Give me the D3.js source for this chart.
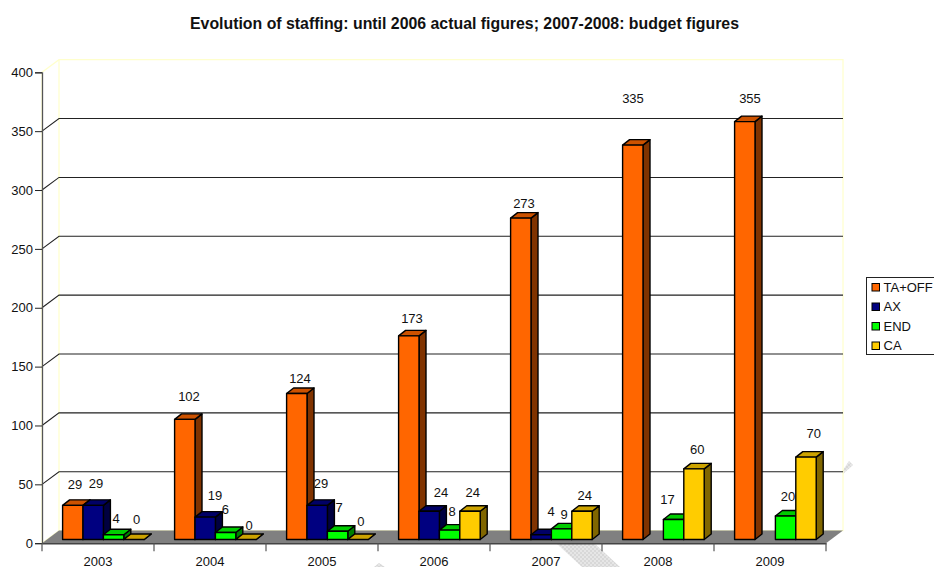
<!DOCTYPE html>
<html>
<head>
<meta charset="utf-8">
<title>Evolution of staffing</title>
<script src="https://cdn.jsdelivr.net/npm/d3@7"></script>
<style>
  html, body { margin: 0; padding: 0; background: #fff; overflow: hidden; }
  text { font-family: "Liberation Sans", Arial, sans-serif; fill: #111; }
</style>
</head>
<body>
<svg id="chart" width="934" height="567"></svg>
<script>
const categories = ['2003', '2004', '2005', '2006', '2007', '2008', '2009'];
const seriesNames = ['TA+OFF', 'AX', 'END', 'CA'];
const taOff = [29, 102, 124, 173, 273, 335, 355];
const ax = [29, 19, 29, 24, 4, null, null];
const end = [4, 6, 7, 8, 9, 17, 20];
const ca = [0, 0, 0, 24, 24, 60, 70];
const yTicks = [0, 50, 100, 150, 200, 250, 300, 350, 400];
const titleText = 'Evolution of staffing: until 2006 actual figures; 2007-2008: budget figures';

const seriesValues = [taOff, ax, end, ca];

// front, top and side faces of the 3d bars
const seriesColors = [
  { front: '#ff6600', top: '#cc5200', side: '#803300' },
  { front: '#000080', top: '#000066', side: '#000040' },
  { front: '#00ff00', top: '#00cc00', side: '#008000' },
  { front: '#ffcc00', top: '#cca300', side: '#806600' },
];

// the data labels in the original sit oddly, so they are nudged one by one [dx, dy]
const labelNudges = [
  [[12.4, -21], [14.4, -23], [13.4, -15], [13.4, -17], [13.4, -15], [10.4, -47], [15.4, -23.5]],
  [[13, -22], [20, -22], [14, -22], [22, -19], [20, -23], null, null],
  [[12.6, -16], [10, -23], [11.6, -24], [12.6, -19], [12.6, -14], [4, -20.5], [12.6, -20]],
  [[12.7, -20.5], [13.3, -14.5], [13, -18.5], [13, -19], [13, -16], [13.4, -19], [18, -24]],
];

const svg = d3.select('#chart');

const x = d3.scaleBand().domain(categories).range([42, 826]);
const y = d3.scaleLinear().domain([0, 400]).range([543.2, 72.3]);
const subX = d3.scaleBand().domain(seriesNames).range([20.6, 102.2]);

const wallDx = 17;
const wallDy = -12.6;
const barDx = 7;
const barDy = -5.5;
const baseDy = -3.7; // bars stand a little behind the front edge of the floor

const pathOf = (points) => `M${points.map((p) => p.join(',')).join('L')}Z`;

// faint checkered band that shows through behind the chart
const defs = svg.append('defs');
const checker = defs
  .append('pattern')
  .attr('id', 'checker')
  .attr('width', 4)
  .attr('height', 4)
  .attr('patternUnits', 'userSpaceOnUse');
checker.append('rect').attr('width', 4).attr('height', 4).attr('fill', '#e6e6e6');
checker.append('rect').attr('width', 2).attr('height', 2).attr('fill', '#d8d8d8');
checker.append('rect').attr('x', 2).attr('y', 2).attr('width', 2).attr('height', 2).attr('fill', '#d8d8d8');

const bandShapes = [
  [[556, 543], [594, 543], [620, 567], [582, 567]],
  [[843, 470], [849, 461], [853, 465], [843, 474]],
  [[374, 567], [379, 563], [385, 567]],
];
svg
  .append('g')
  .selectAll('path')
  .data(bandShapes)
  .join('path')
  .attr('d', pathOf)
  .attr('fill', 'url(#checker)');

svg
  .append('text')
  .attr('x', 464.5)
  .attr('y', 29)
  .attr('text-anchor', 'middle')
  .attr('font-size', 15.87)
  .attr('font-weight', 'bold')
  .text(titleText);

// walls
const x0 = x.range()[0];
const x1 = x.range()[1];
const yBase = y(0);
const yTop = y(400);

svg
  .append('path')
  .attr('d', pathOf([[x0, yTop], [x0 + wallDx, yTop + wallDy], [x1 + wallDx, yTop + wallDy], [x1 + wallDx, yBase + wallDy], [x0 + wallDx, yBase + wallDy], [x0, yBase]]))
  .attr('fill', 'none')
  .attr('stroke', '#ffffcc')
  .attr('stroke-width', 1.2);
svg
  .append('line')
  .attr('x1', x0 + wallDx)
  .attr('x2', x0 + wallDx)
  .attr('y1', yTop + wallDy)
  .attr('y2', yBase + wallDy)
  .attr('stroke', '#ffffcc')
  .attr('stroke-width', 1.2);

// floor
svg
  .append('path')
  .attr('d', pathOf([[x0, yBase], [x0 + wallDx, yBase + wallDy], [x1 + wallDx, yBase + wallDy], [x1, yBase]]))
  .attr('fill', '#808080');

// gridlines run along the side wall and the back wall
svg
  .append('g')
  .selectAll('path')
  .data(yTicks.filter((d) => d > 0 && d < 400))
  .join('path')
  .attr('d', (d) => `M${x0},${y(d)}L${x0 + wallDx},${y(d) + wallDy}L${x1 + wallDx},${y(d) + wallDy}`)
  .attr('fill', 'none')
  .attr('stroke', '#222')
  .attr('stroke-width', 1.1);

const yAxis = d3.axisLeft(y).tickValues(yTicks).tickSize(7).tickPadding(2);
const yAxisGroup = svg.append('g').attr('transform', `translate(${x0},0)`).call(yAxis);
yAxisGroup.select('.domain').attr('stroke', '#555').attr('stroke-width', 1.3);
yAxisGroup.selectAll('.tick line').attr('stroke', '#222');
yAxisGroup.selectAll('.tick text').attr('font-size', 13).attr('font-family', '"Liberation Sans", Arial, sans-serif');

// front edge of the floor with the category ticks
const xAxis = d3.axisBottom(x).tickSize(0).tickPadding(11);
const xAxisGroup = svg.append('g').attr('transform', `translate(0,${yBase})`).call(xAxis);
xAxisGroup.select('.domain').attr('stroke', '#444').attr('stroke-width', 1.6);
xAxisGroup.selectAll('.tick text').attr('font-size', 13).attr('font-family', '"Liberation Sans", Arial, sans-serif').attr('dy', '0.88em');
xAxisGroup
  .selectAll('.cat-tick')
  .data([...categories.map((c) => x(c)), x1])
  .join('line')
  .attr('class', 'cat-tick')
  .attr('x1', (d) => d)
  .attr('x2', (d) => d)
  .attr('y1', 0)
  .attr('y2', 8)
  .attr('stroke', '#555')
  .attr('stroke-width', 1.2);

// bars, one series at a time; each series' labels go down with it so later bars can cover them
seriesNames.forEach((name, s) => {
  const rows = categories
    .map((category, i) => ({ category, i, value: seriesValues[s][i] }))
    .filter((d) => d.value !== null);
  const colors = seriesColors[s];
  const group = svg.append('g').attr('class', `series-${s}`);

  const bar = group
    .selectAll('g')
    .data(rows)
    .join('g')
    .attr('stroke', '#000')
    .attr('stroke-width', 1.4)
    .attr('stroke-linejoin', 'round');

  const left = (d) => x(d.category) + subX(name);
  const right = (d) => left(d) + subX.bandwidth();
  const bottom = () => yBase + baseDy;
  const top = (d) => y(d.value) + baseDy;

  bar
    .append('path')
    .attr('d', (d) => pathOf([[right(d), top(d)], [right(d) + barDx, top(d) + barDy], [right(d) + barDx, bottom() + barDy], [right(d), bottom()]]))
    .attr('fill', colors.side);

  bar
    .append('path')
    .attr('d', (d) => pathOf([[left(d), top(d)], [left(d) + barDx, top(d) + barDy], [right(d) + barDx, top(d) + barDy], [right(d), top(d)]]))
    .attr('fill', colors.top);

  bar
    .filter((d) => d.value > 0)
    .append('rect')
    .attr('x', left)
    .attr('y', top)
    .attr('width', subX.bandwidth())
    .attr('height', (d) => bottom() - top(d))
    .attr('fill', colors.front);

  group
    .selectAll('text')
    .data(rows)
    .join('text')
    .attr('x', (d) => left(d) + labelNudges[s][d.i][0])
    .attr('y', (d) => top(d) + labelNudges[s][d.i][1])
    .attr('dy', '0.35em')
    .attr('text-anchor', 'middle')
    .attr('font-size', 13)
    .text((d) => d.value);
});

// legend runs off the right edge of the picture, as in the original
const legend = svg.append('g');
legend
  .append('rect')
  .attr('x', 866.5)
  .attr('y', 277.5)
  .attr('width', 80)
  .attr('height', 77)
  .attr('fill', '#fff')
  .attr('stroke', '#222')
  .attr('stroke-width', 1);

const legendY = d3.scalePoint().domain(seriesNames).range([287, 345.5]);
const legendRow = legend
  .selectAll('g')
  .data(seriesNames)
  .join('g')
  .attr('transform', (d) => `translate(872,${legendY(d)})`);
legendRow
  .append('rect')
  .attr('x', 0)
  .attr('y', -3.5)
  .attr('width', 7.5)
  .attr('height', 7.5)
  .attr('fill', (d, i) => seriesColors[i].front)
  .attr('stroke', '#000')
  .attr('stroke-width', 1);
legendRow
  .append('text')
  .attr('x', 11.5)
  .attr('dy', '0.36em')
  .attr('font-size', 13)
  .text((d) => d);
</script>
</body>
</html>
